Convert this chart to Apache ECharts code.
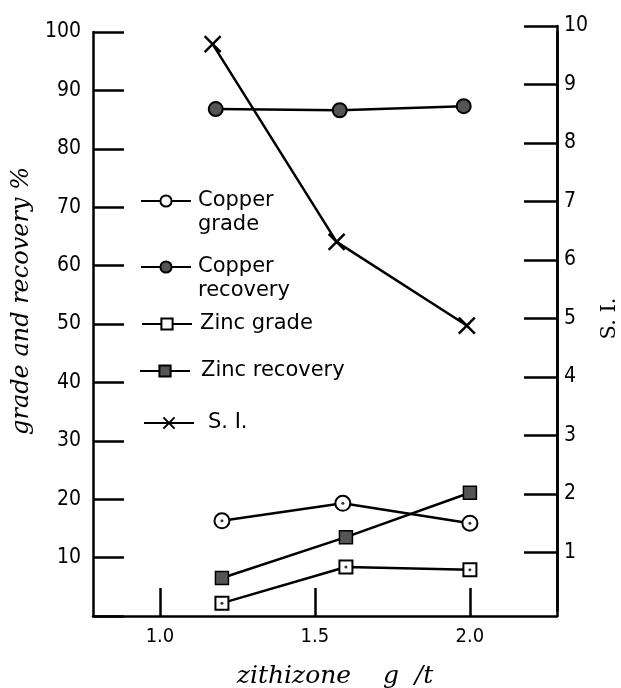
<!DOCTYPE html>
<html>
<head>
<meta charset="utf-8">
<script src="https://cdn.jsdelivr.net/npm/echarts@6/dist/echarts.min.js"></script>
<style>
html, body { margin: 0; background: #fff; }
#main { width: 621px; height: 688px; }
</style>
</head>
<body>
<div id="main"></div>
<script>
// tick values
var xTicks = [1.0, 1.5, 2.0];
var siTicks = [1, 2, 3, 4, 5, 6, 7, 8, 9, 10];

// zithizone g/t vs value, read per series (hand drawn, x drifts a bit)
var siX = [1.17, 1.57, 1.99];
var siVal = [9.69, 6.31, 4.88];
var cuRecX = [1.18, 1.58, 1.98];
var cuRecVal = [86.8, 86.6, 87.3];
var cuGradeX = [1.2, 1.59, 2.0];
var cuGradeVal = [16.3, 19.3, 15.9];
var znRecX = [1.2, 1.6, 2.0];
var znRecVal = [6.5, 13.5, 21.1];
var znGradeX = [1.2, 1.6, 2.0];
var znGradeVal = [2.2, 8.4, 7.9];

function pairs(xs, ys) {
    return xs.map(function (x, i) { return [x, ys[i]]; });
}

var ink = '#000';
var serif = 'DejaVu Serif';
var hand = 'DejaVu Sans';
var digits = "'DejaVu Sans Condensed', 'DejaVu Sans', sans-serif";
var crossPath = 'path://M0,0 L10,10 M10,0 L0,10';

var myChart = echarts.init(document.getElementById('main'));

var legendText = { color: ink, fontSize: 21, fontFamily: hand, lineHeight: 24 };

function oneLegend(name, label, left, top, extraPad) {
    return {
        data: [name],
        left: left,
        top: top,
        padding: 0,
        itemWidth: 50,
        itemHeight: 14,
        formatter: function () { return label; },
        textStyle: Object.assign({}, legendText, {
            padding: [0, 0, 0, extraPad || 0]
        })
    };
}

var option = {
    backgroundColor: '#fff',
    animation: false,
    grid: [
        { left: 93, top: 32, width: 464, height: 584, outerBoundsMode: 'none' },
        { left: 93, top: 26, width: 464, height: 585, outerBoundsMode: 'none' }
    ],
    legend: [
        // a blank first line keeps "Copper" level with the marker
        oneLegend('Copper grade', '\u00a0\nCopper\ngrade', 140, 165, 2),
        oneLegend('Copper recovery', '\u00a0\nCopper\nrecovery', 140, 231, 2),
        oneLegend('Zinc grade', 'Zinc grade', 141, 312, 3),
        oneLegend('Zinc recovery', 'Zinc recovery', 139, 359, 6),
        oneLegend('S.I.', 'S. I.', 143, 411, 9)
    ],
    xAxis: [
        {
            gridIndex: 0,
            type: 'value',
            min: 0.784,
            max: 2.281,
            name: 'zithizone    g  /t',
            nameLocation: 'middle',
            nameGap: 48,
            nameTextStyle: { color: ink, fontSize: 25, fontFamily: serif, fontStyle: 'italic', padding: [0, 0, 0, 20] },
            axisLine: { show: true, lineStyle: { color: ink, width: 2.5 } },
            axisTick: { show: true, inside: true, length: 28, customValues: xTicks, lineStyle: { color: ink, width: 2.5 } },
            axisLabel: {
                customValues: xTicks,
                margin: 11,
                color: ink,
                fontSize: 20,
                fontFamily: digits,
                formatter: function (v) { return v.toFixed(1); }
            },
            splitLine: { show: false }
        },
        {
            gridIndex: 1,
            type: 'value',
            min: 0.784,
            max: 2.281,
            show: false
        }
    ],
    yAxis: [
        {
            gridIndex: 0,
            type: 'value',
            position: 'left',
            min: 0,
            max: 100,
            interval: 10,
            name: 'grade and recovery %',
            nameLocation: 'middle',
            nameRotate: 90,
            nameGap: 54,
            nameTextStyle: { color: ink, fontSize: 24, fontFamily: serif, fontStyle: 'italic', padding: [0, 0, 0, 46] },
            axisLine: { show: true, lineStyle: { color: ink, width: 2.5 } },
            axisTick: { show: true, inside: true, length: 31, lineStyle: { color: ink, width: 2.5 } },
            axisLabel: {
                margin: 12,
                color: ink,
                fontSize: 21,
                fontFamily: digits,
                formatter: function (v) { return v === 0 ? '' : v; }
            },
            splitLine: { show: false }
        },
        {
            gridIndex: 0,
            type: 'value',
            position: 'right',
            min: 0,
            max: 10,
            axisLine: { show: true, lineStyle: { color: ink, width: 2.5 } },
            axisTick: { show: false },
            axisLabel: { show: false },
            splitLine: { show: false }
        },
        {
            gridIndex: 1,
            type: 'value',
            position: 'right',
            min: 0,
            max: 10,
            interval: 1,
            name: 'S. I.',
            nameLocation: 'middle',
            nameRotate: 90,
            nameGap: 40,
            nameTextStyle: { color: ink, fontSize: 21, fontFamily: serif },
            axisLine: { show: true, lineStyle: { color: ink, width: 2.5 } },
            axisTick: { show: true, inside: true, length: 33, customValues: siTicks, lineStyle: { color: ink, width: 2.5 } },
            axisLabel: {
                customValues: siTicks,
                margin: 7,
                color: ink,
                fontSize: 21,
                fontFamily: digits
            },
            splitLine: { show: false }
        }
    ],
    series: [
        {
            name: 'Copper grade',
            type: 'line',
            xAxisIndex: 0, yAxisIndex: 0,
            data: pairs(cuGradeX, cuGradeVal),
            symbol: 'circle',
            symbolSize: 15,
            lineStyle: { color: ink, width: 2.5 },
            itemStyle: { color: '#fff', borderColor: ink, borderWidth: 2 }
        },
        {
            name: 'Copper recovery',
            type: 'line',
            xAxisIndex: 0, yAxisIndex: 0,
            data: pairs(cuRecX, cuRecVal),
            symbol: 'circle',
            symbolSize: 14,
            lineStyle: { color: ink, width: 2.5 },
            itemStyle: { color: '#555', borderColor: ink, borderWidth: 2 }
        },
        {
            name: 'Zinc grade',
            type: 'line',
            xAxisIndex: 0, yAxisIndex: 0,
            data: pairs(znGradeX, znGradeVal),
            symbol: 'rect',
            symbolSize: 13,
            lineStyle: { color: ink, width: 2.5 },
            itemStyle: { color: '#fff', borderColor: ink, borderWidth: 2 }
        },
        {
            name: 'Zinc recovery',
            type: 'line',
            xAxisIndex: 0, yAxisIndex: 0,
            data: pairs(znRecX, znRecVal),
            symbol: 'rect',
            symbolSize: 13,
            lineStyle: { color: ink, width: 2.5 },
            itemStyle: { color: '#555', borderColor: ink, borderWidth: 1.5 }
        },
        {
            name: 'S.I.',
            type: 'line',
            xAxisIndex: 1, yAxisIndex: 2,
            data: pairs(siX, siVal),
            symbol: crossPath,
            symbolSize: 16,
            lineStyle: { color: ink, width: 2.5 },
            itemStyle: { color: ink, borderColor: ink, borderWidth: 2.5 }
        },
        {
            // centre dots of the open grade markers
            name: 'dots',
            type: 'scatter',
            xAxisIndex: 0, yAxisIndex: 0,
            silent: true,
            z: 5,
            symbol: 'circle',
            symbolSize: 3,
            itemStyle: { color: ink },
            data: pairs(cuGradeX, cuGradeVal).concat(pairs(znGradeX, znGradeVal))
        }
    ]
};

myChart.setOption(option);
</script>
</body>
</html>
